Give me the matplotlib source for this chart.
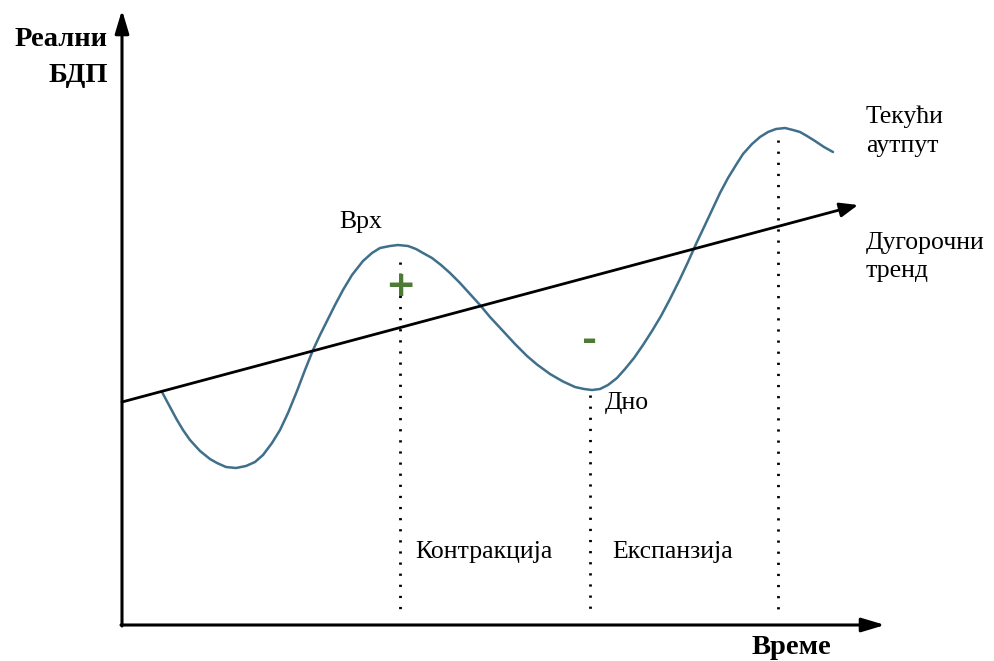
import matplotlib.pyplot as plt

plt.rcParams['font.family'] = ['Liberation Serif', 'DejaVu Serif']

# време (произвољне јединице) и текући аутпут
time = [40, 48, 55, 61, 68, 78, 88, 95, 104, 114, 124, 133, 141, 150, 158, 166, 175,
        183, 191, 198, 205, 213, 221, 230, 241, 250, 258, 268, 276, 286, 294, 301,
        310, 319, 328, 338, 348, 358, 368, 381, 393, 405, 415, 428, 441, 453, 462,
        470, 478, 486, 495, 503, 512, 521, 530, 539, 548, 558, 566, 574, 583, 591,
        598, 606, 614, 621, 630, 638, 646, 654, 663, 671, 678, 685, 693, 702, 711]
output = [233, 218, 205, 195, 185, 174, 166, 162, 158, 157, 159, 163, 170, 182, 195,
          212, 234, 255, 275, 290, 304, 320, 335, 350, 364, 372, 377, 379, 380, 379,
          376, 372, 367, 360, 352, 342, 331, 320, 308, 294, 281, 269, 260.5, 251, 243.5,
          238, 236, 235, 236, 240, 247, 256, 267, 280, 294, 309, 326, 346, 363, 381,
          400, 417, 432, 447, 460, 471, 481, 488, 493, 496, 497, 495, 493, 489, 484,
          478, 473]

# дугорочни тренд (почетак и крај)
trend_t = [0, 736]
trend_y = [223, 420]

# врх, дно, врх
turn_t = [278, 468, 656]
turn_y = [363, 230, 485]

fig = plt.figure(figsize=(9.94, 6.61), dpi=100)
ax = fig.add_axes([0, 0, 1, 1])
ax.set_xlim(-122, 872)
ax.set_ylim(-36, 625)
ax.axis('off')

# осе
arrow = dict(arrowstyle='-|>,head_length=1,head_width=0.3', lw=2.2, color='black',
             shrinkA=0, shrinkB=0, mutation_scale=14)
ax.annotate('', xy=(0, 615), xytext=(0, -1), arrowprops=arrow)
ax.annotate('', xy=(763, 0), xytext=(-1, 0), arrowprops=arrow)

# тренд
ax.annotate('', xy=(trend_t[1], trend_y[1]), xytext=(trend_t[0], trend_y[0]),
            arrowprops=dict(arrowstyle='-|>,head_length=1,head_width=0.4', lw=2,
                            color='black', shrinkA=0, shrinkB=0, mutation_scale=11))

# текући аутпут
ax.plot(time, output, color='#3f6f8a', lw=1.8, solid_capstyle='round',
        solid_joinstyle='round')

# тачкасте линије
for t, y in zip(turn_t, turn_y):
    ax.plot([t, t], [y, 13], color='black', lw=2, dashes=(0.8, 3.2))

ax.text(400 - 122, 625 - 286, '+', color='#4b7b34', fontsize=26, fontweight='bold',
        ha='center', va='center', family='DejaVu Sans')
ax.text(590 - 122, 625 - 341, '-', color='#4b7b34', fontsize=26, fontweight='bold',
        ha='center', va='center', family='DejaVu Sans')

# натписи
fs = 18.5
ax.text(108 - 122, 625 - 40, 'Реални', fontsize=20.5, fontweight='bold', ha='right', va='center')
ax.text(108 - 122, 625 - 75, 'БДП', fontsize=20.5, fontweight='bold', ha='right', va='center')
ax.text(831 - 122, 625 - 648, 'Време', fontsize=20.5, fontweight='bold', ha='right', va='center')
ax.text(361 - 122, 625 - 222, 'Врх', fontsize=fs, ha='center', va='center')
ax.text(605 - 122, 625 - 403, 'Дно', fontsize=fs, ha='left', va='center')
ax.text(866 - 122, 625 - 117, 'Текући', fontsize=fs, ha='left', va='center')
ax.text(866 - 122, 625 - 146, 'аутпут', fontsize=fs, ha='left', va='center')
ax.text(866 - 122, 625 - 243, 'Дугорочни', fontsize=fs, ha='left', va='center')
ax.text(866 - 122, 625 - 271, 'тренд', fontsize=fs, ha='left', va='center')
ax.text(415 - 122, 625 - 552, 'Контракција', fontsize=fs, ha='left', va='center')
ax.text(612 - 122, 625 - 552, 'Експанзија', fontsize=fs, ha='left', va='center')

plt.savefig('out.png', dpi=100)
